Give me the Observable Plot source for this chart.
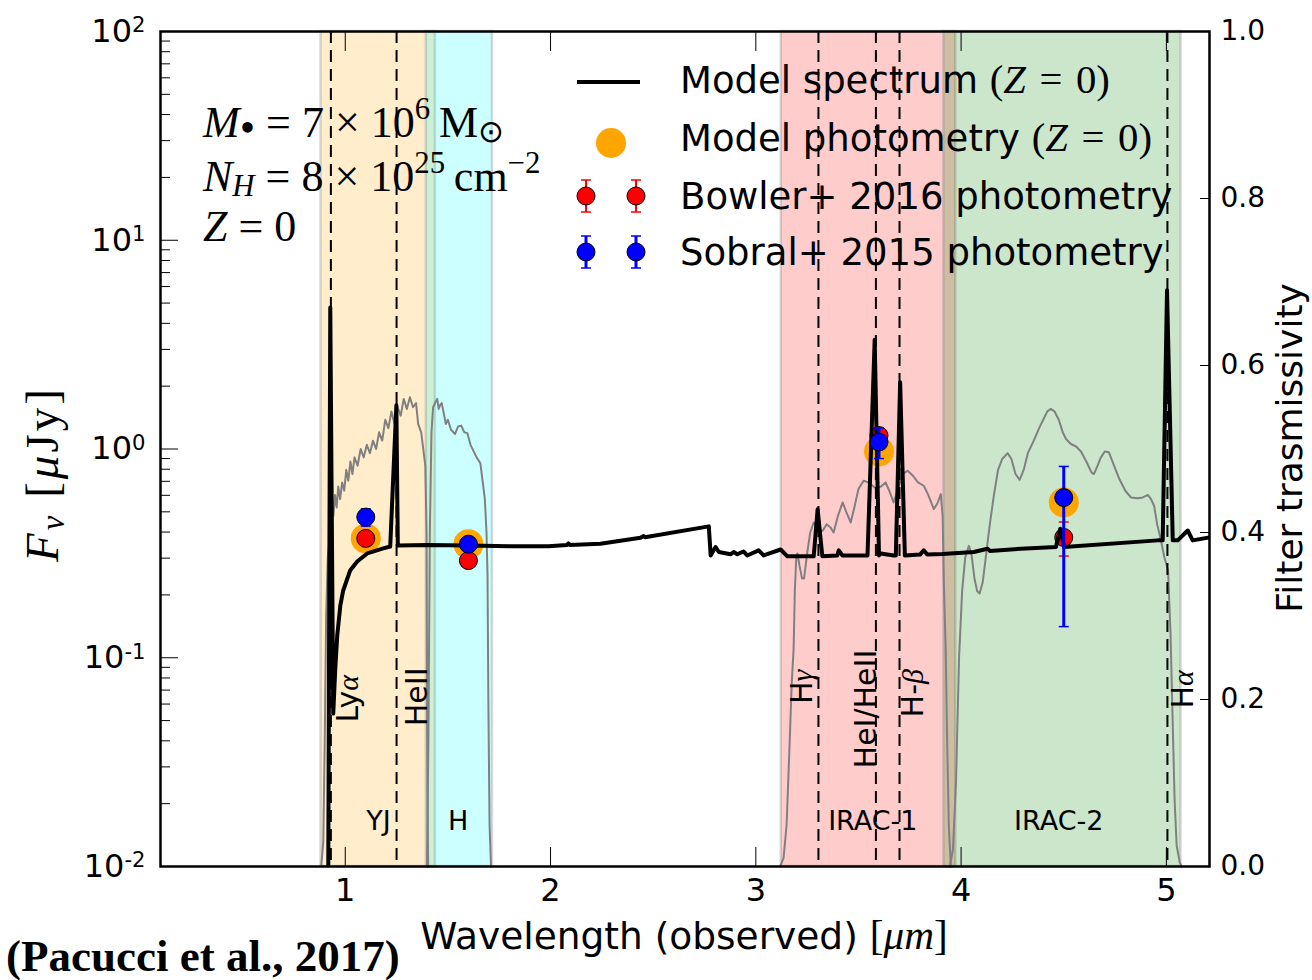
<!DOCTYPE html>
<html>
<head>
<meta charset="utf-8">
<script src="https://cdn.jsdelivr.net/npm/d3@7"></script>
<script src="https://cdn.jsdelivr.net/npm/@observablehq/plot@0.6"></script>
<style>
  body { margin: 0; background: #fff; }
  #chart svg { display: block; }
</style>
</head>
<body>
<div id="chart"></div>
<script>
const SANS = "DejaVu Sans";
const SERIF = "Liberation Serif";

// Model spectrum (Z = 0): observed wavelength [µm] and flux density [µJy]
const specLam = [0.900, 0.917, 0.927, 0.9415, 0.951, 0.961, 0.976, 0.990, 1.024, 1.058, 1.107, 1.185, 1.219, 1.249, 1.256,
  1.400, 1.600, 1.800, 1.990, 2.080, 2.087, 2.095, 2.243, 2.438, 2.453, 2.460, 2.771, 2.780, 2.804, 2.820, 2.877, 2.892,
  2.910, 2.940, 2.958, 3.014, 3.038, 3.121, 3.154, 3.282, 3.301, 3.324, 3.397, 3.404, 3.422, 3.511, 3.544, 3.579, 3.600,
  3.609, 3.672, 3.682, 3.703, 3.726, 3.800, 3.818, 3.835, 3.909, 4.062, 4.129, 4.140, 4.291, 4.462, 4.483, 4.502, 4.958,
  4.982, 5.003, 5.031, 5.055, 5.104, 5.128, 5.217];
const specFlux = [0.004, 0.008, 4.76, 0.054, 0.087, 0.128, 0.178, 0.210, 0.262, 0.289, 0.316, 0.334, 0.341, 1.62, 0.345,
  0.347, 0.345, 0.342, 0.342, 0.347, 0.353, 0.347, 0.352, 0.376, 0.383, 0.378, 0.426, 0.309, 0.339, 0.321, 0.313, 0.321,
  0.313, 0.323, 0.309, 0.327, 0.309, 0.330, 0.306, 0.306, 0.514, 0.306, 0.309, 0.327, 0.309, 0.309, 0.309, 3.34, 0.309,
  0.316, 0.309, 0.309, 2.09, 0.309, 0.312, 0.327, 0.312, 0.314, 0.321, 0.333, 0.325, 0.333, 0.339, 0.415, 0.339, 0.365,
  0.365, 5.76, 0.365, 0.365, 0.407, 0.365, 0.378];

// Filter transmission curves
const yjLam = [0.883, 0.893, 0.900, 0.907, 0.915, 0.927, 0.935, 0.942, 0.950, 0.958, 0.966, 0.975, 0.985, 0.995, 1.005,
  1.015, 1.025, 1.035, 1.045, 1.060, 1.075, 1.090, 1.105, 1.120, 1.135, 1.150, 1.165, 1.180, 1.195, 1.210, 1.225, 1.240,
  1.255, 1.270, 1.285, 1.300, 1.315, 1.330, 1.345, 1.355, 1.370, 1.380, 1.390, 1.396, 1.400, 1.404];
const yjTrans = [0, 0.03, 0.15, 0.30, 0.37, 0.40, 0.43, 0.42, 0.445, 0.43, 0.455, 0.44, 0.46, 0.45, 0.475,
  0.462, 0.485, 0.47, 0.49, 0.48, 0.50, 0.49, 0.505, 0.495, 0.51, 0.50, 0.52, 0.51, 0.535, 0.525, 0.545, 0.53,
  0.55, 0.54, 0.56, 0.548, 0.562, 0.55, 0.555, 0.53, 0.52, 0.50, 0.48, 0.40, 0.10, 0];
const hLam = [1.398, 1.405, 1.412, 1.420, 1.428, 1.439, 1.448, 1.455, 1.463, 1.470, 1.478, 1.490, 1.500, 1.515, 1.535,
  1.550, 1.565, 1.580, 1.595, 1.610, 1.624, 1.640, 1.658, 1.670, 1.680, 1.688, 1.693, 1.697, 1.703, 1.710];
const hTrans = [0, 0.15, 0.40, 0.52, 0.55, 0.556, 0.56, 0.548, 0.553, 0.555, 0.545, 0.53, 0.535, 0.523, 0.518,
  0.527, 0.528, 0.52, 0.519, 0.505, 0.498, 0.49, 0.483, 0.46, 0.44, 0.40, 0.35, 0.20, 0.05, 0];
const irac1Lam = [3.118, 3.135, 3.150, 3.165, 3.175, 3.184, 3.190, 3.197, 3.203, 3.213, 3.225, 3.235, 3.250, 3.265, 3.282,
  3.300, 3.326, 3.345, 3.364, 3.379, 3.400, 3.423, 3.440, 3.462, 3.480, 3.500, 3.525, 3.550, 3.584, 3.610, 3.632, 3.650,
  3.671, 3.690, 3.715, 3.740, 3.765, 3.790, 3.818, 3.840, 3.867, 3.885, 3.901, 3.910, 3.916, 3.925, 3.932, 3.940, 3.950];
const irac1Trans = [0, 0.01, 0.05, 0.15, 0.22, 0.26, 0.33, 0.37, 0.375, 0.36, 0.345, 0.345, 0.375, 0.40, 0.412,
  0.405, 0.402, 0.41, 0.406, 0.40, 0.42, 0.436, 0.425, 0.412, 0.43, 0.452, 0.462, 0.46, 0.453, 0.455, 0.46, 0.45,
  0.436, 0.45, 0.47, 0.474, 0.468, 0.46, 0.456, 0.445, 0.428, 0.435, 0.446, 0.42, 0.339, 0.26, 0.15, 0.05, 0];
const irac2Lam = [3.945, 3.960, 3.975, 3.990, 4.005, 4.020, 4.038, 4.050, 4.065, 4.078, 4.090, 4.105, 4.120, 4.140, 4.160,
  4.180, 4.200, 4.227, 4.245, 4.265, 4.285, 4.305, 4.325, 4.354, 4.380, 4.400, 4.420, 4.437, 4.455, 4.476, 4.495, 4.511,
  4.535, 4.560, 4.584, 4.610, 4.635, 4.647, 4.665, 4.681, 4.700, 4.720, 4.745, 4.769, 4.800, 4.827, 4.860, 4.885, 4.910,
  4.925, 4.940, 4.955, 4.974, 4.990, 5.008, 5.020, 5.030, 5.040, 5.050, 5.065, 5.075];
const irac2Trans = [0, 0.02, 0.10, 0.25, 0.33, 0.37, 0.384, 0.375, 0.345, 0.33, 0.327, 0.34, 0.37, 0.41, 0.445,
  0.475, 0.488, 0.495, 0.488, 0.47, 0.463, 0.475, 0.495, 0.51, 0.525, 0.535, 0.545, 0.548, 0.545, 0.535, 0.52, 0.512,
  0.506, 0.503, 0.497, 0.485, 0.472, 0.47, 0.48, 0.49, 0.497, 0.496, 0.48, 0.465, 0.45, 0.442, 0.441, 0.442, 0.445,
  0.44, 0.432, 0.41, 0.39, 0.37, 0.355, 0.28, 0.18, 0.08, 0.025, 0.005, 0];

// Filter bands
const bandNames = ["YJ", "H", "IRAC-1", "IRAC-2"];
const bandStart = [0.882, 1.395, 3.124, 3.916];
const bandEnd = [1.439, 1.717, 3.974, 5.071];
const bandColors = ["orange", "cyan", "red", "green"];
const bandLabelLam = [1.162, 1.55, 3.57, 4.476];
const bandLabelFlux = [0.015, 0.015, 0.015, 0.015];

// Emission lines
const lineLam = [0.930, 1.250, 3.305, 3.585, 3.700, 5.005];
const lineNames = ["Lyα", "HeII", "Hγ", "HeI/HeII", "H-β", "Hα"];
const lineLabelLam = [1.063, 1.400, 3.272, 3.584, 3.813, 5.130];
const lineLabelFlux = [0.049, 0.047, 0.060, 0.0295, 0.0518, 0.0571];

// Photometry [µJy]
const photLam = [1.1, 1.6, 3.6, 4.5];
const modelPhot = [0.373, 0.350, 0.974, 0.555];
const bowlerFlux = [0.373, 0.292, 1.16, 0.377];
const bowlerErr = [0.02, 0.02, 0.10, 0.07];
const sobralFlux = [0.472, 0.350, 1.08, 0.585];
const sobralErrLo = [0.045, 0.02, 0.18, 0.444];
const sobralErrHi = [0.045, 0.02, 0.18, 0.24];

// Axis ticks
const fluxTicks = [0.01, 0.1, 1, 10, 100];
const fluxTickExp = ["-2", "-1", "0", "1", "2"];
const transTicks = [0, 0.2, 0.4, 0.6, 0.8, 1.0];
const lamTicks = [1, 2, 3, 4, 5];

const legendLabels = ["Model spectrum", "Model photometry", "Bowler+ 2016 photometry", "Sobral+ 2015 photometry"];

// Transmissivity (0–1, right axis) shares the log flux scale: 0 → 10⁻², 1 → 10²
const toFlux = t => 10 ** (-2 + 4 * t);

const minorFlux = [];
for (const e of [-2, -1, 0, 1]) for (let m = 2; m <= 9; m++) minorFlux.push(m * 10 ** e);

const bands = bandNames.map((name, i) => ({name, x1: bandStart[i], x2: bandEnd[i], color: bandColors[i]}));
const filters = [[yjLam, yjTrans], [hLam, hTrans], [irac1Lam, irac1Trans], [irac2Lam, irac2Trans]];
const phot = photLam.map((lam, i) => ({
  lam, model: modelPhot[i],
  bowler: bowlerFlux[i], bLo: bowlerFlux[i] - bowlerErr[i], bHi: bowlerFlux[i] + bowlerErr[i],
  sobral: sobralFlux[i], sLo: sobralFlux[i] - sobralErrLo[i], sHi: sobralFlux[i] + sobralErrHi[i]
}));

// horizontal cap for error bars
const cap = {draw(ctx, size) { const r = Math.sqrt(size / Math.PI); ctx.moveTo(-r, 0); ctx.lineTo(r, 0); }};

function errorMarks(yLo, yHi, y, color, barWidth) {
  return [
    Plot.ruleX(phot, {x: "lam", y1: yLo, y2: yHi, stroke: color, strokeWidth: barWidth}),
    Plot.dot(phot, {x: "lam", y: yLo, symbol: cap, r: 5, stroke: color, strokeWidth: 1.5, fill: "none"}),
    Plot.dot(phot, {x: "lam", y: yHi, symbol: cap, r: 5, stroke: color, strokeWidth: 1.5, fill: "none"}),
    Plot.dot(phot, {x: "lam", y, r: 9, fill: color, stroke: "black", strokeWidth: 1})
  ];
}

const chart = Plot.plot({
  width: 1312,
  height: 980,
  marginLeft: 160,
  marginRight: 103,
  marginTop: 31,
  marginBottom: 114,
  style: {fontFamily: SANS, fontSize: "32px", color: "black", background: "white", overflow: "visible"},
  x: {domain: [0.1, 5.21]},
  y: {type: "log", domain: [0.01, 100]},
  marks: [
    ...bands.map(b => Plot.rect([b], {x1: "x1", x2: "x2", fill: b.color, fillOpacity: 0.2,
      stroke: "#7f7f7f", strokeOpacity: 0.3, strokeWidth: 2.5})),
    ...filters.map(([lam, tr]) => Plot.line(lam, {x: lam, y: tr.map(toFlux), stroke: "#808080", strokeWidth: 2})),
    Plot.ruleX(lineLam, {stroke: "black", strokeWidth: 2, strokeDasharray: "12,7"}),
    Plot.text(bandNames, {x: bandLabelLam, y: bandLabelFlux, text: d => d, fontSize: 27, lineAnchor: "bottom"}),
    Plot.text(lineNames, {x: lineLabelLam, y: lineLabelFlux, text: d => d, fontSize: 30, rotate: -90,
      textAnchor: "start", lineAnchor: "bottom"}),
    Plot.dot(phot, {x: "lam", y: "model", r: 15, fill: "orange"}),
    ...errorMarks("bLo", "bHi", "bowler", "red", 2),
    Plot.line(specLam, {x: specLam, y: specFlux, stroke: "black", strokeWidth: 4, clip: true}),
    ...errorMarks("sLo", "sHi", "sobral", "blue", 3),
    Plot.axisY(fluxTicks, {anchor: "left", tickSize: -18, tickPadding: 33, label: null, fontSize: 32,
      tickFormat: d => "10^" + fluxTickExp[fluxTicks.indexOf(d)]}),
    Plot.axisY(minorFlux, {anchor: "left", tickSize: -10, label: null, tickFormat: () => ""}),
    Plot.axisY(transTicks.map(toFlux), {anchor: "right", tickSize: -10, tickPadding: 21, label: null, fontSize: 28,
      tickFormat: d => ((Math.log10(d) + 2) / 4).toFixed(1)}),
    Plot.axisX(lamTicks, {anchor: "bottom", tickSize: -19, tickPadding: 31, label: null, fontSize: 32,
      tickFormat: d => String(d)}),
    Plot.axisX(lamTicks, {anchor: "top", tickSize: -19, label: null, tickFormat: () => ""}),
    Plot.frame({stroke: "black", strokeWidth: 2.5})
  ]
});

document.getElementById("chart").append(chart);
const svg = d3.select(chart);

svg.selectAll("text").each(function () {
  const s = this.textContent;
  const el = d3.select(this);
  // powers of ten on the flux axis: superscript exponents
  if (/^10\^/.test(s)) {
    el.text("10");
    el.append("tspan").attr("dy", "-0.45em").attr("font-size", "0.66em").text(s.slice(3));
    return;
  }
  // Greek letters in line labels set in italic serif
  if (lineNames.includes(s) && /[αβγ]/.test(s)) {
    el.text(null);
    for (const ch of s.split(/([αβγ])/).filter(Boolean)) {
      const ts = el.append("tspan").text(ch);
      if (/[αβγ]/.test(ch)) ts.attr("font-family", SERIF).attr("font-style", "italic");
    }
  }
});

// Mixed text with sub/superscripts
function richText(parent, parts, {x, y, size, anchor = "start", rotate = 0, spacing = 0}) {
  const t = parent.append("text")
    .attr("transform", `translate(${x},${y})` + (rotate ? ` rotate(${rotate})` : ""))
    .attr("text-anchor", anchor)
    .attr("font-size", size)
    .attr("letter-spacing", spacing)
    .attr("fill", "black");
  let shift = 0;
  for (const p of parts) {
    const target = p.sup ? -0.42 * size : p.sub ? 0.12 * size : 0;
    const ts = t.append("tspan")
      .attr("dy", target - shift)
      .attr("font-size", p.size ? p.size * size : (p.sup || p.sub) ? size * 0.7 : size)
      .attr("font-family", p.sans ? SANS : SERIF)
      .text(p.t);
    if (p.it) ts.attr("font-style", "italic");
    shift = target;
  }
  return t;
}

const sp = "\u2004"; // three-per-em space around relations
const overlay = svg.append("g").attr("text-anchor", "start");

// Model parameters
richText(overlay, [{t: "M", it: 1}, {t: "•", sub: 1, size: 1}, {t: " = 7 × 10"}, {t: "6", sup: 1},
  {t: "\u2009M"}, {t: "⊙", sub: 1}], {x: 203, y: 137, size: 44});
richText(overlay, [{t: "N", it: 1}, {t: "H", it: 1, sub: 1}, {t: " = 8 × 10"}, {t: "25", sup: 1},
  {t: "\u2009cm"}, {t: "−2", sup: 1}], {x: 203, y: 191, size: 44});
richText(overlay, [{t: "Z", it: 1}, {t: " = 0"}], {x: 203, y: 241, size: 44});

// Legend
const lg = overlay.append("g");
const rowY = [80, 138, 196, 252];
lg.append("line").attr("x1", 577).attr("x2", 640).attr("y1", rowY[0] + 2).attr("y2", rowY[0] + 2)
  .attr("stroke", "black").attr("stroke-width", 4);
lg.append("circle").attr("cx", 611).attr("cy", rowY[1] + 5).attr("r", 15).attr("fill", "orange");
[["red", rowY[2], 2], ["blue", rowY[3], 3]].forEach(([color, cy, w]) => {
  for (const cx of [586, 636]) {
    lg.append("line").attr("x1", cx).attr("x2", cx).attr("y1", cy - 16).attr("y2", cy + 16)
      .attr("stroke", color).attr("stroke-width", w);
    for (const yy of [cy - 16, cy + 16]) lg.append("line").attr("x1", cx - 5).attr("x2", cx + 5)
      .attr("y1", yy).attr("y2", yy).attr("stroke", color).attr("stroke-width", 1.5);
    lg.append("circle").attr("cx", cx).attr("cy", cy).attr("r", 9).attr("fill", color)
      .attr("stroke", "black").attr("stroke-width", 1);
  }
});
const zPart = [{t: "(", size: 1.1}, {t: "Z", it: 1, size: 1.1}, {t: `${sp}=${sp}0`, size: 1.1}, {t: ")", size: 1.1}];
richText(lg, [{t: legendLabels[0] + " ", sans: 1}, ...zPart], {x: 680, y: rowY[0] + 13, size: 37});
richText(lg, [{t: legendLabels[1] + " ", sans: 1}, ...zPart], {x: 680, y: rowY[1] + 13, size: 37});
richText(lg, [{t: legendLabels[2], sans: 1}], {x: 680, y: rowY[2] + 13, size: 37});
richText(lg, [{t: legendLabels[3], sans: 1}], {x: 680, y: rowY[3] + 13, size: 37});

// Axis titles
richText(overlay, [{t: "Wavelength (observed) ", sans: 1}, {t: "[", size: 1.1}, {t: "μm", it: 1, size: 1.1}, {t: "]", size: 1.1}],
  {x: 684, y: 949, size: 37.5, anchor: "middle"});
richText(overlay, [{t: "F", it: 1}, {t: "ν", it: 1, sub: 1}, {t: " ["}, {t: "μ", it: 1}, {t: "Jy]"}],
  {x: 58, y: 474, size: 47, anchor: "middle", rotate: -90, spacing: 3});
richText(overlay, [{t: "Filter trasmissivity", sans: 1}],
  {x: 1302, y: 448, size: 36, anchor: "middle", rotate: -90});

// Source
overlay.append("text").attr("x", 6).attr("y", 971).attr("text-anchor", "start")
  .attr("font-family", SERIF).attr("font-weight", "bold").attr("font-size", 45).attr("fill", "black")
  .text("(Pacucci et al., 2017)");
</script>
</body>
</html>
